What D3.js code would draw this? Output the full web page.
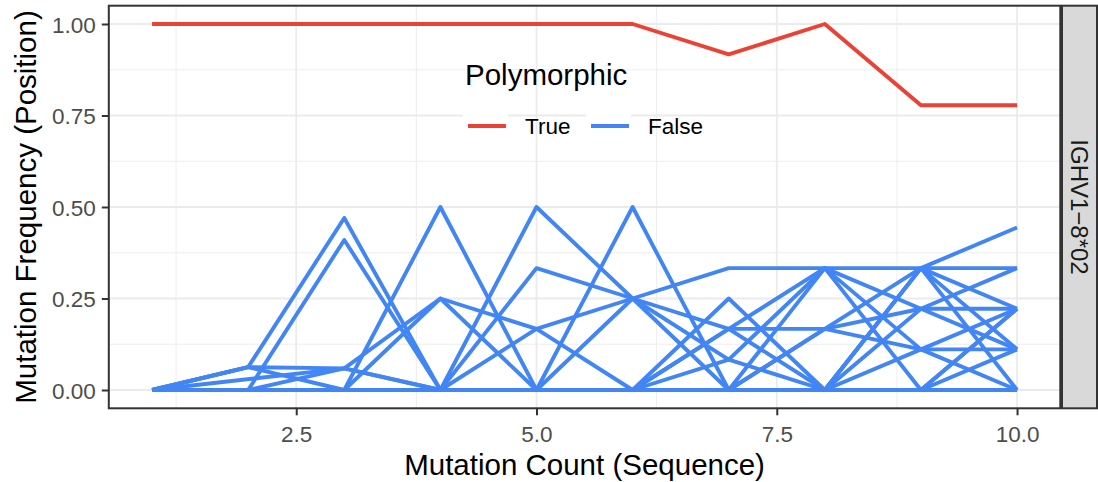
<!DOCTYPE html>
<html>
<head>
<meta charset="utf-8">
<script src="https://cdn.jsdelivr.net/npm/d3@7"></script>
<style>
  html, body { margin: 0; padding: 0; background: #ffffff; }
  svg { display: block; font-family: "Liberation Sans", Arial, Helvetica, sans-serif; }
</style>
</head>
<body>
<svg id="chart" width="1098" height="482"></svg>
<script>
// ---------------- data ----------------
const mutationCounts = [1, 2, 3, 4, 5, 6, 7, 8, 9, 10];
const xTicks = [2.5, 5.0, 7.5, 10.0];
const yTicks = [0, 0.25, 0.5, 0.75, 1.0];
const facetLabel = "IGHV1\u22128*02";
const legendTitle = "Polymorphic";
const legendLabels = ["True", "False"];

// Polymorphic = True
const polyTrue = [1, 1, 1, 1, 1, 1, 0.917, 1, 0.778, 0.778];

// Polymorphic = False (one array per position; null = not observed)
const pos01 = [0, 0.0625, 0.47, 0, 0, 0, 0, 0, 0, 0];
const pos02 = [0, 0, 0.41, 0, 0, 0, 0, 0, 0.111, 0.111];
const pos03 = [0, 0.0625, 0.059, 0.25, 0.167, 0, 0, 0, 0, 0.222];
const pos04 = [0, 0.0625, 0, 0, 0, 0, 0, 0, 0, 0.111];
const pos05 = [0, 0, 0.059, 0, 0, 0, 0, 0, 0.333, 0];
const pos06 = [0, null, 0.059, 0, 0, 0, 0, 0, 0.333, 0.111];
const pos07 = [0, 0, 0, 0.5, 0, 0, 0, 0, 0, 0];
const pos08 = [0, 0, 0, 0.25, 0, 0, 0, 0, 0, 0];
const pos09 = [0, 0, 0, 0, 0.5, 0.25, 0.167, 0.167, 0.222, 0.222];
const pos10 = [0, 0, 0, 0, 0.333, 0.25, 0.083, 0.333, 0.111, 0.222];
const pos11 = [0, 0, 0, 0, 0.167, 0.25, 0.333, 0.333, 0.333, 0.444];
const pos12 = [0, 0, 0, 0, 0, 0.5, 0, 0.333, 0, 0.222];
const pos13 = [0, 0, 0, 0, 0, 0.25, 0, 0.167, 0.333, 0.222];
const pos14 = [0, 0, 0, 0, 0, 0, 0.25, 0, 0.333, 0.333];
const pos15 = [0, 0, 0, 0, 0, 0, 0.167, 0.333, 0.222, 0.333];
const pos16 = [0, 0, 0, 0, 0, 0, 0.083, 0, 0, 0];
const pos17 = [0, 0, 0, 0, 0, 0, 0, 0.167, 0.111, 0];
const pos18 = [0, 0, 0, 0, 0, 0, 0.167, 0, 0.222, 0.111];
const polyFalse = [pos01, pos02, pos03, pos04, pos05, pos06, pos07, pos08, pos09,
                   pos10, pos11, pos12, pos13, pos14, pos15, pos16, pos17, pos18];

// ---------------- layout ----------------
const RED = "#EA4335", BLUE = "#4285F4";
const panel = { left: 108.8, right: 1060.3, top: 5.7, bottom: 408.3 };
const svg = d3.select("#chart");

const x = d3.scaleLinear().domain([0.55, 10.45]).range([panel.left, panel.right]);
const y = d3.scaleLinear().domain([-0.05, 1.05]).range([panel.bottom, panel.top]);

// panel background
svg.append("rect").attr("x", panel.left).attr("y", panel.top)
  .attr("width", panel.right - panel.left).attr("height", panel.bottom - panel.top)
  .attr("fill", "#ffffff");

// grid
const grid = svg.append("g");
const xMinor = [1.25, 3.75, 6.25, 8.75];
const yMinor = [0.125, 0.375, 0.625, 0.875];
grid.selectAll(".xm").data(xMinor).join("line")
  .attr("x1", d => x(d)).attr("x2", d => x(d)).attr("y1", panel.top).attr("y2", panel.bottom)
  .attr("stroke", "#EBEBEB").attr("stroke-width", 0.9);
grid.selectAll(".ym").data(yMinor).join("line")
  .attr("y1", d => y(d)).attr("y2", d => y(d)).attr("x1", panel.left).attr("x2", panel.right)
  .attr("stroke", "#EBEBEB").attr("stroke-width", 0.9);
grid.selectAll(".xM").data(xTicks).join("line")
  .attr("x1", d => x(d)).attr("x2", d => x(d)).attr("y1", panel.top).attr("y2", panel.bottom)
  .attr("stroke", "#EBEBEB").attr("stroke-width", 1.8);
grid.selectAll(".yM").data(yTicks).join("line")
  .attr("y1", d => y(d)).attr("y2", d => y(d)).attr("x1", panel.left).attr("x2", panel.right)
  .attr("stroke", "#EBEBEB").attr("stroke-width", 1.8);

// lines
const lineGen = d3.line().x(d => x(d[0])).y(d => y(d[1]));
const toPts = arr => mutationCounts.map((m, i) => [m, arr[i]]).filter(p => p[1] !== null);

const marks = svg.append("g");
marks.append("path").datum(toPts(polyTrue)).attr("d", lineGen)
  .attr("fill", "none").attr("stroke", RED).attr("stroke-width", 3.9)
  .attr("stroke-linejoin", "round").attr("stroke-linecap", "butt");
marks.selectAll(".blue").data(polyFalse).join("path")
  .attr("d", d => lineGen(toPts(d)))
  .attr("fill", "none").attr("stroke", BLUE).attr("stroke-width", 3.9)
  .attr("stroke-linejoin", "round").attr("stroke-linecap", "butt");

// panel border
svg.append("rect").attr("x", panel.left).attr("y", panel.top)
  .attr("width", panel.right - panel.left).attr("height", panel.bottom - panel.top)
  .attr("fill", "none").attr("stroke", "#333333").attr("stroke-width", 2);

// axes
const xAxis = svg.append("g").attr("transform", `translate(0,${panel.bottom})`)
  .call(d3.axisBottom(x).tickValues(xTicks).tickFormat(d3.format(".1f")).tickSize(7).tickPadding(11));
const yAxis = svg.append("g").attr("transform", `translate(${panel.left},0)`)
  .call(d3.axisLeft(y).tickValues(yTicks).tickFormat(d3.format(".2f")).tickSize(7).tickPadding(6));
[xAxis, yAxis].forEach(a => {
  a.select(".domain").remove();
  a.selectAll(".tick line").attr("stroke", "#333333").attr("stroke-width", 2);
  a.selectAll(".tick text").attr("fill", "#4D4D4D").style("font-size", "22.5px")
    .style("font-family", "'Liberation Sans', Arial, sans-serif");
});
xAxis.selectAll(".tick text").attr("dy", "0.71em");
yAxis.selectAll(".tick text").attr("dy", "0.36em");

// axis titles
svg.append("text").attr("x", (panel.left + panel.right) / 2).attr("y", 475)
  .attr("text-anchor", "middle").attr("fill", "#000").style("font-size", "29.5px")
  .text("Mutation Count (Sequence)");
svg.append("text").attr("transform", `translate(36,${(panel.top + panel.bottom) / 2}) rotate(-90)`)
  .attr("text-anchor", "middle").attr("fill", "#000").style("font-size", "29.5px")
  .text("Mutation Frequency (Position)");

// facet strip
const strip = { x: 1062, w: 35 };
svg.append("rect").attr("x", strip.x).attr("y", panel.top)
  .attr("width", strip.w).attr("height", panel.bottom - panel.top)
  .attr("fill", "#D9D9D9").attr("stroke", "#333333").attr("stroke-width", 2);
svg.append("text")
  .attr("transform", `translate(${strip.x + strip.w / 2},${(panel.top + panel.bottom) / 2}) rotate(90)`)
  .attr("text-anchor", "middle").attr("dy", "0.36em").attr("fill", "#1A1A1A")
  .style("font-size", "24px").text(facetLabel);

// legend (inside panel)
const legend = svg.append("g");
legend.append("text").attr("x", 465).attr("y", 85).attr("fill", "#000")
  .style("font-size", "29.5px").text(legendTitle);
const keys = [
  { label: legendLabels[0], color: RED, kx: 463, tx: 525 },
  { label: legendLabels[1], color: BLUE, kx: 586, tx: 648 }
];
keys.forEach(k => {
  legend.append("rect").attr("x", k.kx).attr("y", 111).attr("width", 45).attr("height", 30).attr("fill", "#fff");
  legend.append("line").attr("x1", k.kx + 5).attr("x2", k.kx + 43).attr("y1", 126).attr("y2", 126)
    .attr("stroke", k.color).attr("stroke-width", 4);
  legend.append("text").attr("x", k.tx).attr("y", 134).attr("fill", "#000")
    .style("font-size", "22.5px").text(k.label);
});
</script>
</body>
</html>
